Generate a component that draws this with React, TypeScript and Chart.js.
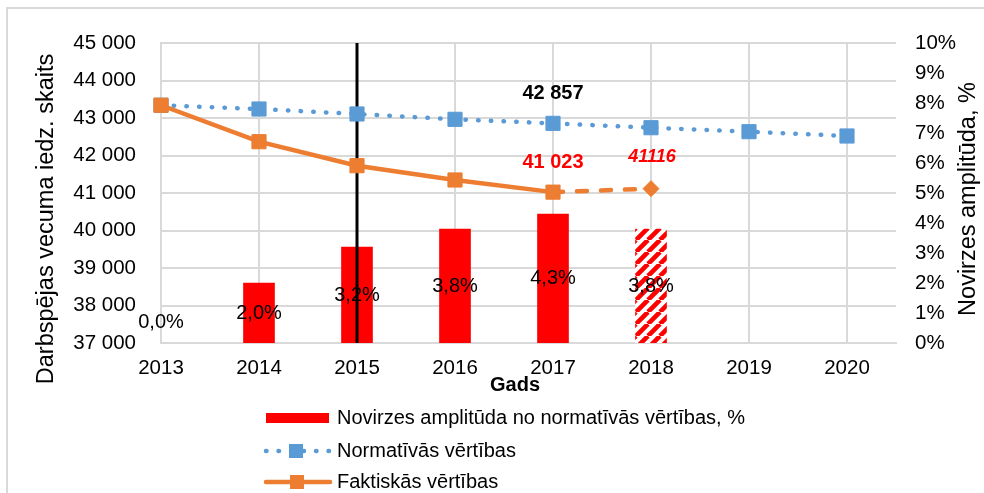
import React, { useEffect, useRef } from 'react';
import { Chart, registerables } from 'chart.js';

Chart.register(...registerables);

// ---------- data ----------
const years = [2013, 2014, 2015, 2016, 2017, 2018, 2019, 2020];
const normativeValues = [43340, 43240, 43107, 42965, 42857, 42741, 42635, 42520];
const actualYears = [2013, 2014, 2015, 2016, 2017, 2018];
const actualValues = [43340, 42368, 41728, 41347, 41023, 41116];
const deviationYears = [2013, 2014, 2015, 2016, 2017, 2018];
const deviationValues = [0.0, 2.0, 3.2, 3.8, 4.3, 3.8];
const markerYear = 2015;
const leftAxisRange = [37000, 45000];
const rightAxisRange = [0, 10];
const seriesLabels = [
  'Novirzes amplitūda no normatīvās vērtības, %',
  'Normatīvās vērtības',
  'Faktiskās vērtības',
];
const leftAxisTitle = 'Darbspējas vecuma iedz. skaits';
const rightAxisTitle = 'Novirzes amplitūda, %';
const xAxisTitle = 'Gads';

// ---------- styles ----------
const FONT = '"Liberation Sans", Arial, Helvetica, sans-serif';
const RED = '#ff0000';
const BLUE = '#5b9bd5';
const ORANGE = '#ed7d31';
const GRID = '#d9d9d9';

const fmtThousands = (v: number) =>
  Math.round(v).toString().replace(/\B(?=(\d{3})+(?!\d))/g, ' ');
const fmtPct = (v: number) => v.toFixed(1).replace('.', ',') + '%';

function makeHatch(): CanvasPattern | string {
  const c = document.createElement('canvas');
  const p = 12;
  c.width = p;
  c.height = p;
  const g = c.getContext('2d');
  if (!g) return RED;
  g.fillStyle = '#ffffff';
  g.fillRect(0, 0, p, p);
  g.strokeStyle = RED;
  g.lineWidth = 4.6;
  g.beginPath();
  for (let k = -1; k <= 1; k++) {
    g.moveTo(k * p, p);
    g.lineTo(k * p + p, 0);
  }
  g.stroke();
  return g.createPattern(c, 'repeat') || RED;
}

const labelsPlugin = {
  id: 'valueLabels',
  afterDatasetsDraw(chart: any) {
    const ctx = chart.ctx as CanvasRenderingContext2D;
    ctx.save();
    ctx.textAlign = 'center';
    ctx.textBaseline = 'middle';
    // bar labels
    const barMeta = chart.getDatasetMeta(0);
    ctx.font = `20px ${FONT}`;
    ctx.fillStyle = '#000';
    barMeta.data.forEach((el: any, i: number) => {
      const center = (el.y + el.base) / 2;
      const y = Math.min(center, el.base - 21);
      ctx.fillText(fmtPct(deviationValues[i]), el.x, y);
    });
    // annotations
    const normMeta = chart.getDatasetMeta(2);
    const actMeta = chart.getDatasetMeta(3);
    const iN = years.indexOf(2017);
    const iA = actualYears.indexOf(2017);
    const iLast = actualValues.length - 1;
    ctx.font = `bold 20px ${FONT}`;
    ctx.fillStyle = '#000';
    const pN = normMeta.data[iN];
    ctx.fillText(fmtThousands(normativeValues[iN]), pN.x, pN.y - 30);
    ctx.fillStyle = RED;
    const pA = actMeta.data[iA];
    ctx.fillText(fmtThousands(actualValues[iA]), pA.x, pA.y - 30);
    ctx.font = `italic bold 18px ${FONT}`;
    const pL = actMeta.data[iLast];
    ctx.fillText(String(actualValues[iLast]), pL.x + 1, pL.y - 32);
    ctx.restore();
  },
  afterDraw(chart: any) {
    const ctx = chart.ctx as CanvasRenderingContext2D;
    ctx.save();
    ctx.fillStyle = '#000';
    // left axis title
    ctx.font = `23.5px ${FONT}`;
    ctx.textAlign = 'center';
    ctx.textBaseline = 'alphabetic';
    ctx.save();
    ctx.translate(53, 219);
    ctx.rotate(-Math.PI / 2);
    ctx.fillText(leftAxisTitle, 0, 0);
    ctx.restore();
    // right axis title
    ctx.save();
    ctx.translate(975, 199);
    ctx.rotate(-Math.PI / 2);
    ctx.fillText(rightAxisTitle, 0, 0);
    ctx.restore();
    // x axis title
    ctx.font = `bold 20px ${FONT}`;
    ctx.textBaseline = 'middle';
    ctx.fillText(xAxisTitle, 515, 385);

    // legend
    const x0 = 266;
    const x1 = 330;
    const tx = 337;
    const rows = [418, 451, 482];
    ctx.font = `20px ${FONT}`;
    ctx.textAlign = 'left';
    ctx.textBaseline = 'middle';
    // bar symbol
    ctx.fillStyle = RED;
    ctx.fillRect(x0, rows[0] - 5, x1 - x0 - 1, 10);
    // normative symbol
    ctx.strokeStyle = BLUE;
    ctx.lineWidth = 4.5;
    ctx.lineCap = 'round';
    ctx.setLineDash([0.5, 12]);
    ctx.beginPath();
    ctx.moveTo(x0, rows[1]);
    ctx.lineTo(x1, rows[1]);
    ctx.stroke();
    ctx.setLineDash([]);
    ctx.fillStyle = BLUE;
    ctx.fillRect(289, rows[1] - 7, 14, 14);
    // actual symbol
    ctx.strokeStyle = ORANGE;
    ctx.beginPath();
    ctx.moveTo(x0, rows[2]);
    ctx.lineTo(x1, rows[2]);
    ctx.stroke();
    ctx.fillStyle = ORANGE;
    ctx.fillRect(290, rows[2] - 7, 14, 14);
    // texts
    ctx.fillStyle = '#000';
    seriesLabels.forEach((t, i) => ctx.fillText(t, tx, rows[i]));
    ctx.restore();
  },
};

export default function App() {
  const ref = useRef<HTMLCanvasElement>(null);
  useEffect(() => {
    document.body.style.margin = '0';
    const canvas = ref.current;
    if (!canvas) return;
    const hatch = makeHatch();
    const lastIdx = actualValues.length - 1;
    const chart = new Chart(canvas, {
      type: 'bar',
      data: {
        datasets: [
          {
            type: 'bar',
            label: seriesLabels[0],
            data: deviationYears.map((x, i) => ({ x, y: deviationValues[i] })),
            yAxisID: 'y1',
            backgroundColor: deviationYears.map((_, i) =>
              deviationValues[i] === 0
                ? 'rgba(0,0,0,0)'
                : i === deviationYears.length - 1
                ? hatch
                : RED
            ),
            borderWidth: 0,
            barThickness: 31,
            order: 3,
          } as any,
          {
            type: 'line',
            label: 'marker',
            data: leftAxisRange.map((y) => ({ x: markerYear, y })),
            yAxisID: 'y',
            borderColor: '#000',
            borderWidth: 3,
            pointRadius: 0,
            order: 2,
          },
          {
            type: 'line',
            label: seriesLabels[1],
            data: years.map((x, i) => ({ x, y: normativeValues[i] })),
            yAxisID: 'y',
            clip: false,
            borderColor: BLUE,
            borderWidth: 4.5,
            borderDash: [0.5, 12.2],
            borderCapStyle: 'round',
            tension: 0,
            pointStyle: 'rect',
            pointRadius: 10,
            pointBackgroundColor: BLUE,
            pointBorderColor: BLUE,
            pointBorderWidth: 1,
            order: 1,
          },
          {
            type: 'line',
            label: seriesLabels[2],
            data: actualYears.map((x, i) => ({ x, y: actualValues[i] })),
            yAxisID: 'y',
            clip: false,
            borderColor: ORANGE,
            borderWidth: 4.5,
            borderCapStyle: 'round',
            tension: 0,
            segment: {
              borderDash: (c: any) => (c.p1DataIndex === lastIdx ? [10, 14] : undefined),
            },
            pointStyle: actualYears.map((_, i) => (i === lastIdx ? 'rectRot' : 'rect')),
            pointRadius: actualYears.map((_, i) => (i === lastIdx ? 8 : 10)),
            pointBackgroundColor: ORANGE,
            pointBorderColor: ORANGE,
            pointBorderWidth: 1,
            order: 0,
          } as any,
        ],
      },
      options: {
        responsive: false,
        maintainAspectRatio: false,
        devicePixelRatio: 1,
        animation: false,
        layout: { padding: { top: 43, left: 0, right: 0, bottom: 0 } },
        plugins: {
          legend: { display: false },
          tooltip: { enabled: false },
          title: { display: false },
        },
        scales: {
          x: {
            type: 'linear',
            offset: false,
            min: years[0],
            max: years[years.length - 1] + 0.5,
            afterFit: (s: any) => {
              s.height = 150;
            },
            ticks: {
              stepSize: 1,
              includeBounds: false,
              autoSkip: false,
              maxRotation: 0,
              padding: 13,
              color: '#000',
              font: { family: FONT, size: 20.5 },
              callback: (v: any) => (Number.isInteger(v) ? String(v) : ''),
            },
            grid: { color: GRID, lineWidth: 2, drawTicks: false, offset: false },
            border: { color: GRID, width: 2 },
          },
          y: {
            type: 'linear',
            position: 'left',
            min: leftAxisRange[0],
            max: leftAxisRange[1],
            afterFit: (s: any) => {
              s.width = 161;
            },
            ticks: {
              stepSize: 1000,
              padding: 25,
              color: '#000',
              font: { family: FONT, size: 20.5 },
              callback: (v: any) => fmtThousands(Number(v)),
            },
            grid: { color: GRID, lineWidth: 2, drawTicks: false },
            border: { color: GRID, width: 2 },
          },
          y1: {
            type: 'linear',
            position: 'right',
            min: rightAxisRange[0],
            max: rightAxisRange[1],
            afterFit: (s: any) => {
              s.width = 88;
            },
            ticks: {
              stepSize: 1,
              padding: 19,
              color: '#000',
              font: { family: FONT, size: 20.5 },
              callback: (v: any) => Math.round(Number(v)) + '%',
            },
            grid: { display: false, drawTicks: false },
            border: { display: false },
          },
        },
      } as any,
      plugins: [labelsPlugin],
    });
    return () => chart.destroy();
  }, []);

  return (
    <div
      style={{
        position: 'relative',
        width: 984,
        height: 493,
        overflow: 'hidden',
        background: '#fff',
      }}
    >
      <div
        style={{
          position: 'absolute',
          left: 6,
          top: 7,
          width: 1100,
          height: 700,
          border: `2px solid ${GRID}`,
          boxSizing: 'border-box',
        }}
      />
      <canvas
        ref={ref}
        width={984}
        height={493}
        style={{ position: 'absolute', left: 0, top: 0, width: 984, height: 493 }}
      />
    </div>
  );
}
